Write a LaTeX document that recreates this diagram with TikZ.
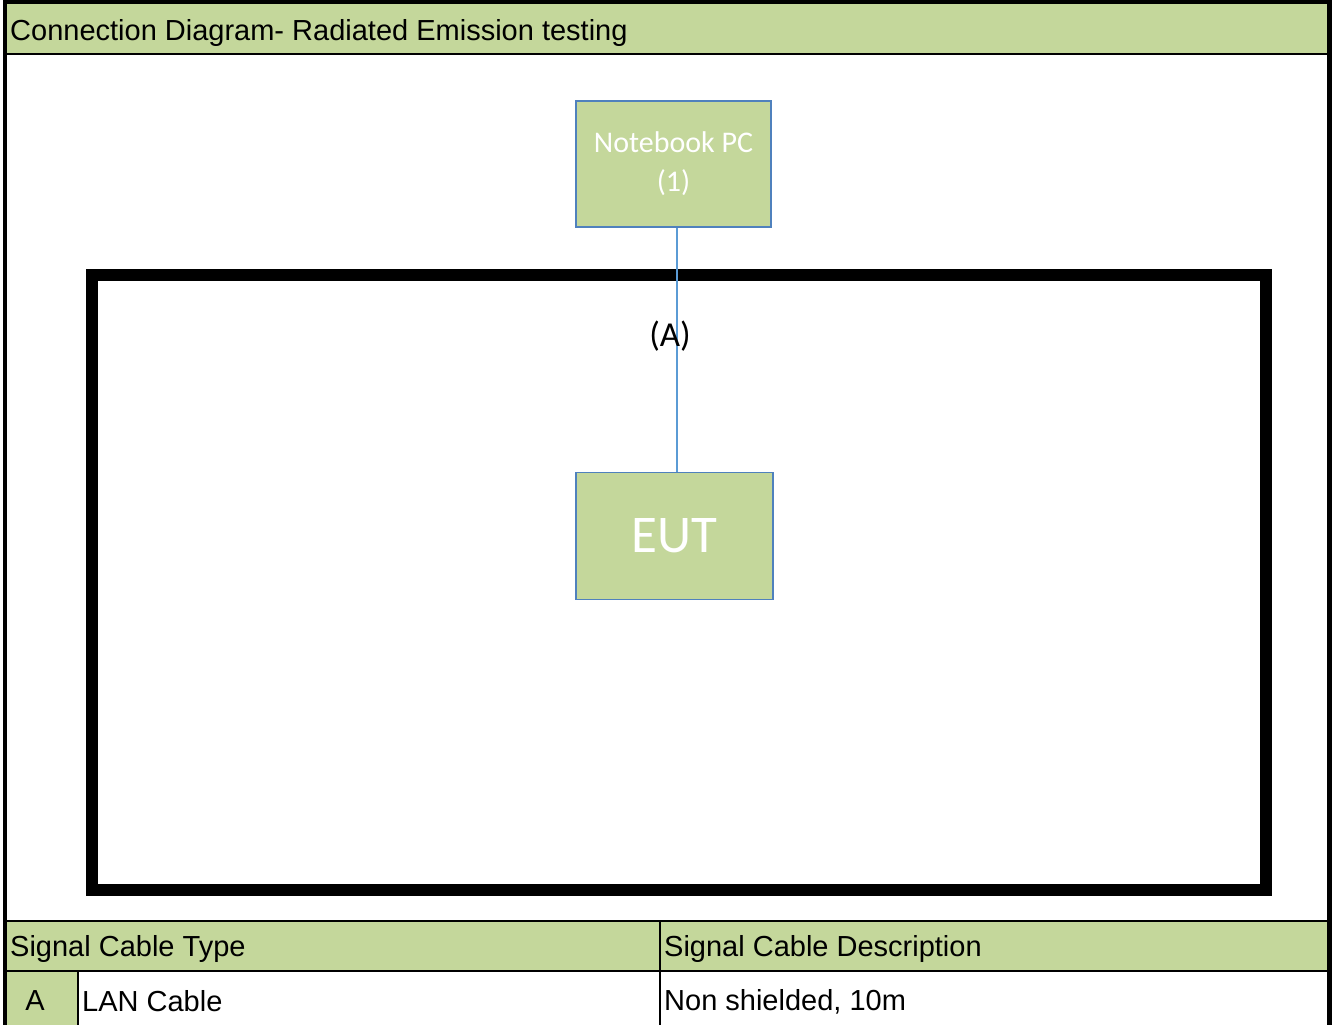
\documentclass[tikz,border=0pt]{standalone}
\usepackage{fontspec}
\setmainfont{Liberation Sans}
\newfontfamily\calibri{Carlito}
\usetikzlibrary{positioning}
\definecolor{cellgreen}{RGB}{196,215,155}
\definecolor{boxedge}{RGB}{79,129,189}
\definecolor{cable}{RGB}{91,155,213}
\tikzstyle{device} = [rectangle, draw=boxedge, fill=cellgreen, line width=1.5pt,
    text=white, align=center, inner sep=0pt]
\tikzstyle{celltext} = [anchor=west, inner sep=0pt, font=\fontsize{29}{34}\selectfont]
\tikzstyle{rule} = [draw, line width=2pt]
\tikzstyle{line} = [draw, cable, line width=1.5pt]

\begin{document}
\begin{tikzpicture}[x=1pt, y=-1pt]
  \useasboundingbox (0,0) rectangle (1335,1025);
  % green cells
  \fill[cellgreen] (7,4) rectangle (1327,54);
  \fill[cellgreen] (7,921) rectangle (1327,970);
  \fill[cellgreen] (7,971) rectangle (77,1025);
  % frame and table rules
  \draw[line width=4pt] (5,0) -- (5,1025);
  \draw[line width=5pt] (1329.5,0) -- (1329.5,1025);
  \draw[line width=4pt] (3,2) -- (1332,2);
  \path[rule] (3,54.5) -- (1332,54.5);
  \path[rule] (3,921) -- (1332,921);
  \path[rule] (3,971) -- (1332,971);
  \path[rule] (660,921) -- (660,1025);
  \path[rule] (78,971) -- (78,1025);
  % test area
  \draw[line width=12pt] (92,275) rectangle (1266,890);

  \node [celltext] (title) at (10,33) {Connection Diagram- Radiated Emission testing};
  \node [device, minimum width=195pt, minimum height=126pt,
    font=\calibri\fontsize{30}{39}\selectfont] (pc) at (673.5,164) {Notebook PC\\(1)};
  \node [device, minimum width=197pt, minimum height=127pt,
    font=\calibri\fontsize{53}{60}\selectfont] (eut) at (674.5,536) {EUT};
  \coordinate (cablex) at (677,0);
  \path [line] (pc.south -| cablex) -- (eut.north -| cablex);
  \node [font=\calibri\fontsize{35}{40}\selectfont, inner sep=0pt] (labelA) at (670,336) {(A)};

  \node [celltext] (typehead) at (10,949) {Signal Cable Type};
  \node [celltext] (deschead) at (664,949) {Signal Cable Description};
  \node [inner sep=0pt, font=\fontsize{29}{34}\selectfont] (typeid) at (35,1001) {A};
  \node [celltext] (typename) at (82,1001) {LAN Cable};
  \node [celltext] (desc) at (664,1002) {Non shielded, 10m};
\end{tikzpicture}
\end{document}
